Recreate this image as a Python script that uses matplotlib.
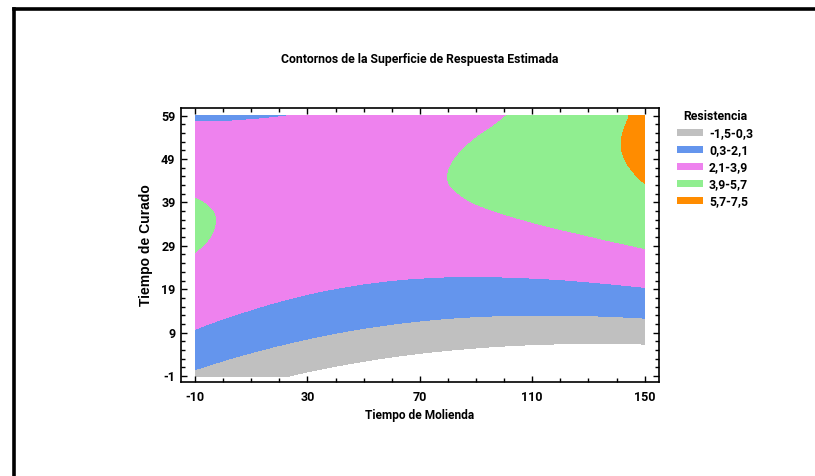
import numpy as np
import matplotlib
matplotlib.use('Agg')
import matplotlib.pyplot as plt
import matplotlib.tri as mtri
from matplotlib.lines import Line2D
from matplotlib.patches import Patch
from matplotlib.ticker import FixedLocator

# Surface: rows = Tiempo de Curado, cols = Tiempo de Molienda
molienda = [-10, 0, 10, 20, 30, 40, 50, 60, 70, 80, 90, 100, 110, 120, 130, 140, 150]
curado = [-1, 4, 9, 14, 19, 24, 29, 34, 39, 44, 49, 54, 59]
resistencia = [
    [-0.03, -0.50, -0.95, -1.36, -1.74, -2.10, -2.42, -2.72, -2.98, -3.22, -3.42, -3.60, -3.74, -3.86, -3.95, -4.00, -4.03],
    [1.06, 0.62, 0.22, -0.15, -0.49, -0.80, -1.08, -1.34, -1.56, -1.75, -1.91, -2.05, -2.15, -2.23, -2.27, -2.28, -2.27],
    [1.97, 1.58, 1.23, 0.90, 0.60, 0.33, 0.09, -0.12, -0.30, -0.45, -0.58, -0.67, -0.73, -0.76, -0.76, -0.74, -0.68],
    [2.72, 2.37, 2.06, 1.77, 1.51, 1.29, 1.09, 0.92, 0.78, 0.67, 0.59, 0.55, 0.53, 0.54, 0.58, 0.65, 0.75],
    [3.30, 3.00, 2.72, 2.48, 2.26, 2.08, 1.92, 1.80, 1.70, 1.63, 1.60, 1.59, 1.61, 1.66, 1.75, 1.86, 2.00],
    [3.71, 3.45, 3.22, 3.02, 2.84, 2.70, 2.59, 2.50, 2.45, 2.42, 2.43, 2.46, 2.53, 2.62, 2.75, 2.90, 3.09],
    [3.96, 3.74, 3.55, 3.38, 3.25, 3.15, 3.08, 3.04, 3.03, 3.05, 3.09, 3.17, 3.28, 3.41, 3.58, 3.78, 4.00],
    [4.03, 3.85, 3.70, 3.59, 3.50, 3.44, 3.41, 3.41, 3.44, 3.50, 3.59, 3.71, 3.86, 4.04, 4.24, 4.48, 4.75],
    [3.94, 3.80, 3.69, 3.62, 3.57, 3.55, 3.57, 3.61, 3.68, 3.78, 3.92, 4.08, 4.27, 4.49, 4.74, 5.02, 5.33],
    [3.67, 3.58, 3.51, 3.48, 3.48, 3.50, 3.56, 3.64, 3.76, 3.90, 4.07, 4.28, 4.51, 4.77, 5.07, 5.39, 5.74],
    [3.24, 3.19, 3.17, 3.18, 3.21, 3.28, 3.38, 3.50, 3.66, 3.85, 4.06, 4.31, 4.59, 4.89, 5.23, 5.59, 5.99],
    [2.64, 2.63, 2.65, 2.70, 2.78, 2.89, 3.03, 3.20, 3.40, 3.63, 3.89, 4.17, 4.49, 4.84, 5.22, 5.62, 6.06],
    [1.87, 1.90, 1.97, 2.06, 2.18, 2.33, 2.51, 2.73, 2.97, 3.24, 3.54, 3.87, 4.23, 4.62, 5.04, 5.49, 5.97],
]

niveles = [-1.5, 0.3, 2.1, 3.9, 5.7, 7.5]
etiquetas = ['-1,5-0,3', '0,3-2,1', '2,1-3,9', '3,9-5,7', '5,7-7,5']
colores = ['#C0C0C0', '#6495ED', '#EE82EE', '#90EE90', '#FF8C00']

x_ticks = [-10, 30, 70, 110, 150]
y_ticks = [-1, 9, 19, 29, 39, 49, 59]

plt.rcParams['font.family'] = ['Roboto', 'Liberation Sans', 'DejaVu Sans']
plt.rcParams['font.weight'] = 'bold'
plt.rcParams['axes.unicode_minus'] = False

fig = plt.figure(figsize=(8.15, 4.76), dpi=100)
ax = fig.add_axes([0.2221, 0.1981, 0.5861, 0.5756])

# smooth contours from the coarse grid (cubic refinement done by matplotlib)
X, Y = np.meshgrid(molienda, curado)
z = np.array(resistencia).ravel()
tri = mtri.Triangulation(X.ravel(), Y.ravel())
interp = mtri.CubicTriInterpolator(tri, z, kind='geom')
refiner = mtri.UniformTriRefiner(tri)
tri_f, z_f = refiner.refine_field(z, interp, subdiv=3)
ax.tricontourf(tri_f, z_f, levels=niveles, colors=colores)

ax.set_xlim(-15, 155)
ax.set_ylim(-2.3, 60.8)
ax.set_xticks(x_ticks)
ax.set_yticks(y_ticks)
ax.xaxis.set_minor_locator(FixedLocator(np.arange(-10, 151, 10)))
ax.yaxis.set_minor_locator(FixedLocator(np.arange(-1, 60, 2)))
ax.tick_params(which='both', direction='in', top=True, right=True, width=1, colors='black')
ax.tick_params(which='major', length=4.5, labelsize=9)
ax.tick_params(axis='x', which='major', pad=7)
ax.tick_params(axis='y', which='major', pad=4)
ax.tick_params(which='minor', length=3)
for s in ax.spines.values():
    s.set_linewidth(1.2)

ax.set_xlabel('Tiempo de Molienda', fontsize=8.6, fontweight='bold', labelpad=3)
ax.set_ylabel('Tiempo de Curado', fontsize=10, fontweight='bold', labelpad=6,
              family=['Liberation Sans', 'DejaVu Sans'])

fig.text(0.5153, 1 - 59 / 476, 'Contornos de la Superficie de Respuesta Estimada',
         ha='center', va='center', fontsize=8.8, fontweight='bold')

handles = [Patch(facecolor=c, edgecolor='none') for c in colores]
leg = fig.legend(handles, etiquetas, loc='upper left', bbox_to_anchor=(0.831, 0.769),
                 frameon=False, title='Resistencia', fontsize=8.8, title_fontsize=8.8,
                 handlelength=2.1, handleheight=0.55, handletextpad=0.5,
                 labelspacing=0.33, borderpad=0, borderaxespad=0)
leg.get_title().set_fontweight('bold')

# frame of the original panel
fig.add_artist(Line2D([0.0166, 1.0], [0.982, 0.982], color='black', lw=2.6))
fig.add_artist(Line2D([0.0166, 0.0166], [0.0, 0.982], color='black', lw=2.6))

plt.savefig('out.png', dpi=100)
